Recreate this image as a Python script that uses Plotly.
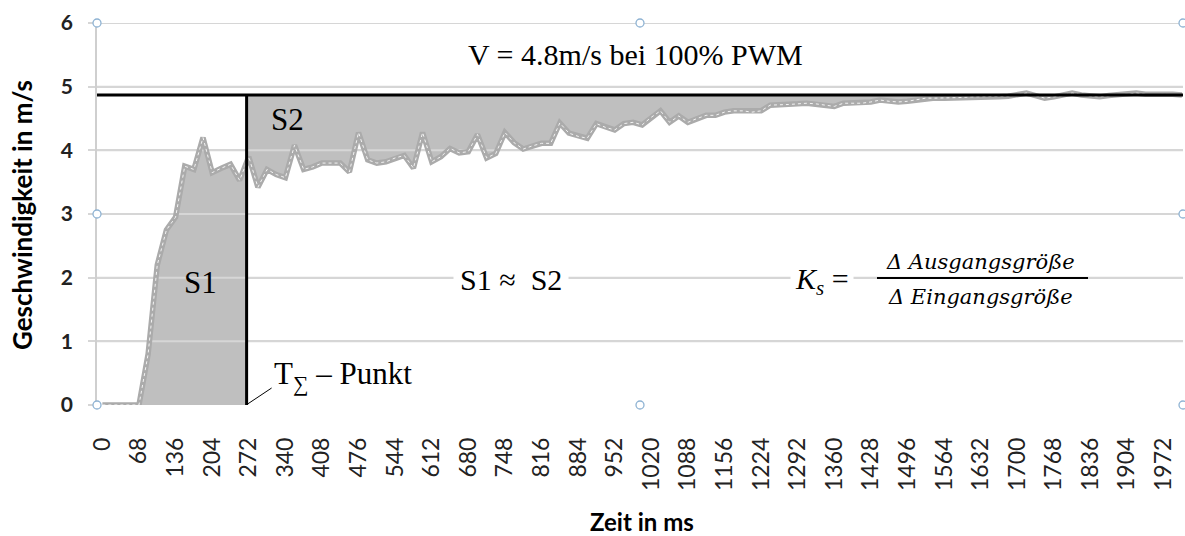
import plotly.graph_objects as go
import numpy as np

# ---------------- data ----------------
time_ms = list(range(0, 2007, 17))          # sample times (ms), 17 ms step
speed = [
    0, 0, 0, 0, 0, 0.8, 2.2, 2.75, 2.95, 3.75, 3.7, 4.2, 3.65, 3.72, 3.78, 3.53, 3.9, 3.42, 3.7, 3.62,
    3.57, 4.08, 3.7, 3.74, 3.8, 3.8, 3.8, 3.66, 4.28, 3.85,
    3.8, 3.82, 3.88, 3.92, 3.72, 4.28, 3.82, 3.9, 4.03, 3.96,
    3.98, 4.25, 3.88, 3.95, 4.28, 4.12, 4.02, 4.07, 4.11, 4.11,
    4.43, 4.27, 4.22, 4.19, 4.42, 4.36, 4.32, 4.42, 4.44, 4.4,
    4.52, 4.62, 4.44, 4.54, 4.44, 4.5, 4.55, 4.55, 4.6, 4.62,
    4.62, 4.6, 4.62, 4.71, 4.71, 4.72, 4.73, 4.74, 4.73, 4.71,
    4.69, 4.74, 4.74, 4.74, 4.76, 4.79, 4.77, 4.76, 4.77, 4.79,
    4.82, 4.82, 4.82, 4.82, 4.83, 4.84, 4.84, 4.84, 4.84, 4.85,
    4.87, 4.9, 4.86, 4.82, 4.84, 4.86, 4.9, 4.87, 4.85, 4.84,
    4.86, 4.87, 4.88, 4.9, 4.88, 4.87, 4.88, 4.88, 4.87,
]
V_MAX = 4.87          # final speed level (black horizontal line)
T_SIGMA = 268         # T-sum point (black vertical line), ms
x_tick_vals = list(range(0, 1973, 68))
y_tick_vals = [0, 1, 2, 3, 4, 5, 6]
X_RANGE = [-10, 2008]
Y_RANGE = [0, 6]

t = np.array(time_ms, dtype=float)
v = np.array(speed, dtype=float)
v_sig = float(np.interp(T_SIGMA, t, v))

# ---------------- geometry helpers ----------------
W, H = 1185, 536
L, R, T, B = 97, 2, 23, 131
PW, PH = W - L - R, H - T - B


def px(xpix):
    return (xpix - L) / PW


def py(ypix):
    return (H - B - ypix) / PH


SERIF = "Liberation Serif, Times New Roman, serif"
SANS = "Lato, Open Sans, sans-serif"
FILL = "#BFBFBF"
GRID = "#D6D6D6"
LINE = "#ABABAB"

fig = go.Figure()

# S1 area (under curve up to T_sigma)
m1 = t <= T_SIGMA
fig.add_trace(go.Scatter(
    x=list(t[m1]) + [T_SIGMA], y=list(v[m1]) + [v_sig],
    fill="tozeroy", fillcolor=FILL, line=dict(width=0), mode="lines",
    hoverinfo="skip", showlegend=False))

# S2 area (between curve and V_MAX after T_sigma)
m2 = t > T_SIGMA
xs2 = [T_SIGMA] + list(t[m2]) + [X_RANGE[1], X_RANGE[1], T_SIGMA]
ys2 = [v_sig] + list(v[m2]) + [v[-1], V_MAX, V_MAX]
fig.add_trace(go.Scatter(
    x=xs2, y=ys2, fill="toself", fillcolor=FILL, line=dict(width=0), mode="lines",
    hoverinfo="skip", showlegend=False))

# gridlines drawn above fills
for yv in y_tick_vals[1:]:
    fig.add_trace(go.Scatter(
        x=X_RANGE, y=[yv, yv], mode="lines", line=dict(color=GRID, width=2),
        hoverinfo="skip", showlegend=False))

# measured curve (thick gray + thin white dashed)
fig.add_trace(go.Scatter(
    x=time_ms, y=speed, mode="lines", line=dict(color=LINE, width=5.5),
    hoverinfo="skip", showlegend=False))
fig.add_trace(go.Scatter(
    x=time_ms, y=speed, mode="lines", line=dict(color="#F4F4F4", width=1, dash="3px,3px"),
    hoverinfo="skip", showlegend=False))

shapes = []
# black horizontal and vertical lines
shapes.append(dict(type="line", xref="paper", yref="y", x0=0, x1=1, y0=V_MAX, y1=V_MAX,
                   line=dict(color="black", width=3), layer="above"))
shapes.append(dict(type="line", xref="x", yref="y", x0=T_SIGMA, x1=T_SIGMA, y0=0, y1=V_MAX,
                   line=dict(color="black", width=3), layer="above"))
# leader line for T-sum label
shapes.append(dict(type="line", xref="x", yref="y", xsizemode="pixel", ysizemode="pixel",
                   xanchor=T_SIGMA, yanchor=0, x0=1, x1=25, y0=1, y1=17,
                   line=dict(color="black", width=1), layer="above"))
# fraction bar of the formula
shapes.append(dict(type="line", xref="paper", yref="paper", x0=px(877), x1=px(1088),
                   y0=py(278), y1=py(278), line=dict(color="black", width=2), layer="above"))
# selection handles
for hx in [0, 0.5, 1]:
    for hy in [0, 0.5, 1]:
        if hx == 0.5 and hy == 0.5:
            continue
        shapes.append(dict(type="circle", xref="paper", yref="paper",
                           xsizemode="pixel", ysizemode="pixel", xanchor=hx, yanchor=hy,
                           x0=-4, x1=4, y0=-4, y1=4,
                           line=dict(color="#8FB3D3", width=1.3), fillcolor="white", layer="above"))

ann = []


def add_text(text, xpix, ypix, size, family=SERIF, bg=None, xanchor="center", **kw):
    d = dict(text=text, x=px(xpix), y=py(ypix), xref="paper", yref="paper",
             showarrow=False, xanchor=xanchor, yanchor="middle",
             font=dict(family=family, size=size, color="black"))
    if bg:
        d["bgcolor"] = bg
    d.update(kw)
    ann.append(d)


add_text("V = 4.8m/s bei 100% PWM", 635, 55, 30)
add_text("S2", 287, 119, 31)
add_text("S1", 200, 282, 31)
add_text("S1 ≈  S2", 511, 279, 30, bg="white", borderpad=6)
add_text("<i>K</i><sub><i>s</i></sub> =", 822, 281, 30, bg="white", borderpad=4)
add_text("<i>Δ Ausgangsgröße</i>", 980, 262, 21, family="DejaVu Serif, serif")
add_text("<i>Δ Eingangsgröße</i>", 980, 297, 21, family="DejaVu Serif, serif")
add_text("T<sub>∑</sub> – Punkt", 272, 376, 31, xanchor="left")
add_text("<b>Zeit in ms</b>", 642, 521, 24, family=SANS)
add_text("<b>Geschwindigkeit in m/s</b>", 22, 215, 26, family=SANS, textangle=-90)

fig.update_layout(
    width=W, height=H, margin=dict(l=L, r=R, t=T, b=B),
    paper_bgcolor="white", plot_bgcolor="white",
    shapes=shapes, annotations=ann, showlegend=False,
    xaxis=dict(range=X_RANGE, tickvals=x_tick_vals, ticktext=[str(x) for x in x_tick_vals],
               tickangle=-90, showgrid=False, zeroline=False, showline=False,
               ticks="", ticklabelstandoff=27,
               tickfont=dict(family=SANS, size=23, color="#222")),
    yaxis=dict(range=Y_RANGE, tickvals=y_tick_vals, showgrid=True, gridcolor=GRID, gridwidth=2,
               zeroline=False, showline=True, linecolor="#CFCFCF", linewidth=1.5,
               ticks="outside", ticklen=7, tickcolor=GRID, tickwidth=2,
               ticklabelstandoff=11,
               tickfont=dict(family=SANS, size=21, color="#222", weight="bold")),
)

fig.write_html("out.html", config={"displayModeBar": False},
               post_script="document.body.style.margin='0px';")
